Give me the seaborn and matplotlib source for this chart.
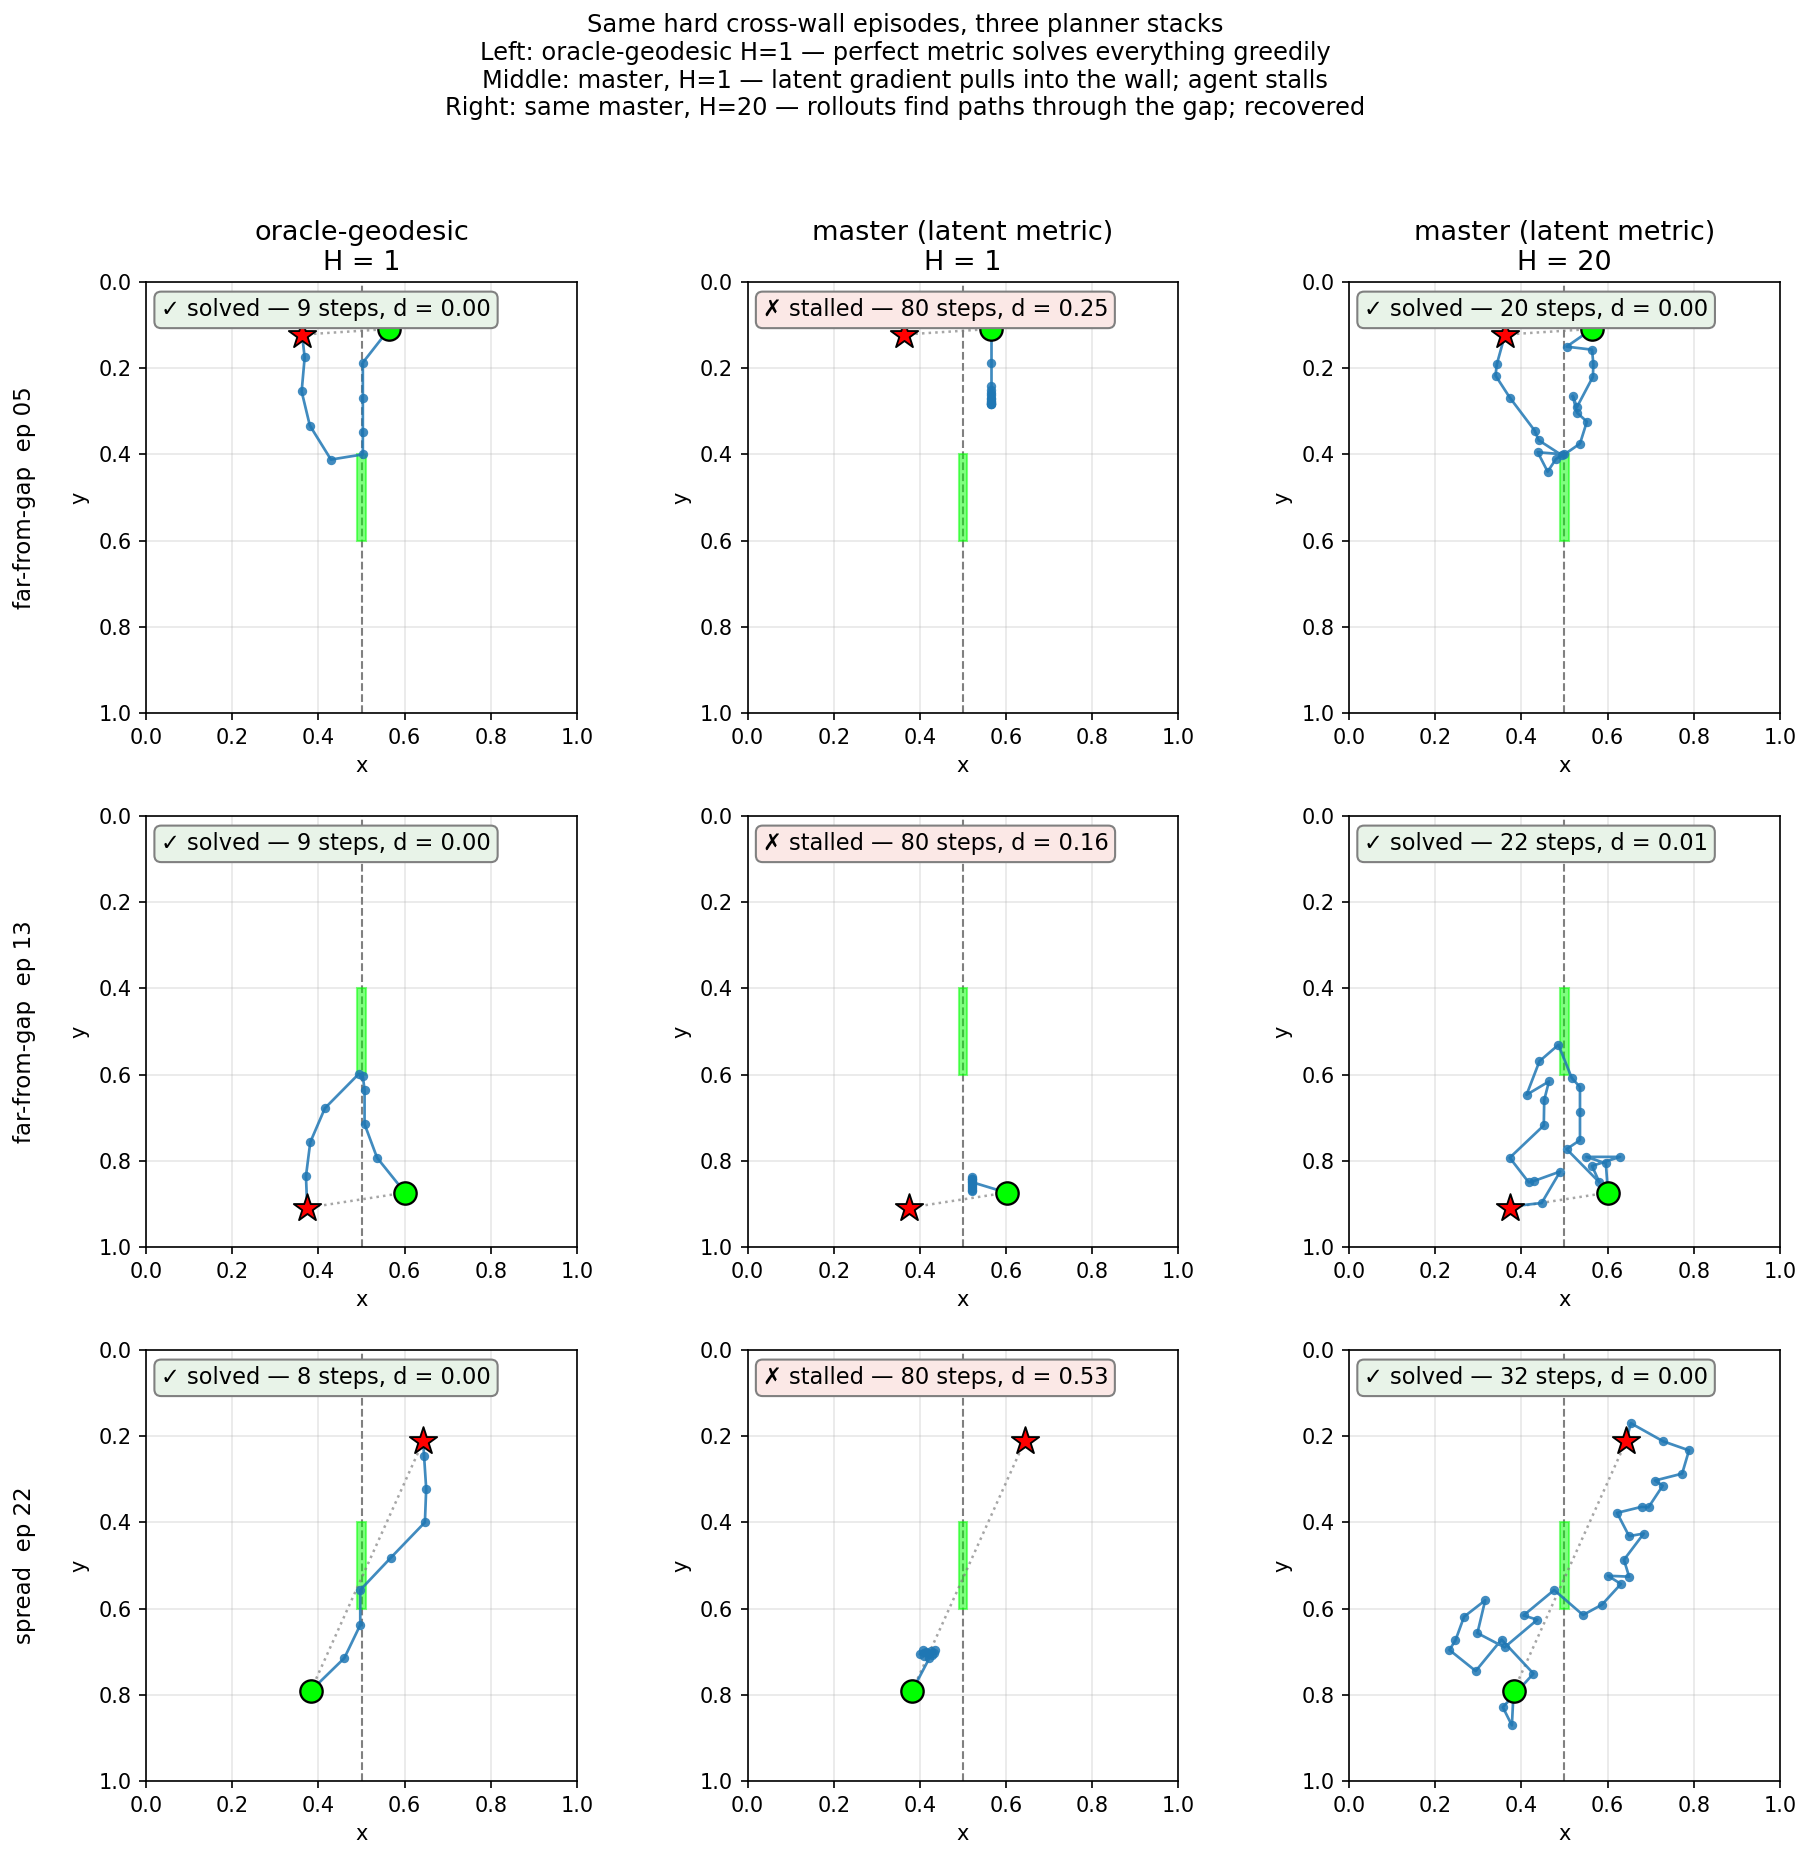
import pandas as pd
import matplotlib.pyplot as plt
import seaborn as sns
from matplotlib.patches import Rectangle

# --- episode data (x, y in [0, 1]; y axis is drawn top-down) ---
row_labels = ["far-from-gap  ep 05", "far-from-gap  ep 13", "spread  ep 22"]
col_titles = ["oracle-geodesic\nH = 1",
              "master (latent metric)\nH = 1",
              "master (latent metric)\nH = 20"]

starts = [(0.564, 0.109), (0.601, 0.874), (0.382, 0.791)]
goals = [(0.362, 0.122), (0.374, 0.909), (0.643, 0.212)]

# visited positions after the start
ep05_oracle = [(0.503, 0.187), (0.503, 0.269), (0.503, 0.347), (0.503, 0.400),
               (0.429, 0.412), (0.380, 0.333), (0.361, 0.254), (0.368, 0.175),
               (0.362, 0.122)]
ep05_master_h1 = [(0.564, 0.187), (0.564, 0.242), (0.564, 0.250), (0.564, 0.257),
                  (0.564, 0.263), (0.564, 0.268), (0.564, 0.272), (0.564, 0.275),
                  (0.564, 0.278), (0.564, 0.280), (0.564, 0.282), (0.564, 0.283),
                  (0.564, 0.284)]
ep05_master_h20 = [(0.505, 0.150), (0.564, 0.157), (0.567, 0.191), (0.566, 0.220),
                   (0.529, 0.290), (0.519, 0.264), (0.529, 0.303), (0.552, 0.324),
                   (0.536, 0.375), (0.500, 0.400), (0.438, 0.395), (0.461, 0.440),
                   (0.480, 0.411), (0.494, 0.402), (0.440, 0.367), (0.431, 0.345),
                   (0.373, 0.268), (0.340, 0.217), (0.343, 0.191), (0.362, 0.122)]

ep13_oracle = [(0.536, 0.793), (0.507, 0.715), (0.507, 0.636), (0.503, 0.604),
               (0.494, 0.598), (0.415, 0.678), (0.381, 0.757), (0.371, 0.836),
               (0.374, 0.909)]
ep13_master_h1 = [(0.522, 0.850), (0.521, 0.843), (0.521, 0.837), (0.522, 0.842),
                  (0.522, 0.848), (0.522, 0.854), (0.522, 0.859), (0.522, 0.864),
                  (0.522, 0.868), (0.522, 0.871)]
ep13_master_h20 = [(0.596, 0.806), (0.551, 0.791), (0.629, 0.791), (0.564, 0.812),
                   (0.581, 0.850), (0.505, 0.773), (0.536, 0.752), (0.536, 0.687),
                   (0.536, 0.629), (0.517, 0.608), (0.486, 0.531), (0.442, 0.569),
                   (0.412, 0.647), (0.464, 0.616), (0.453, 0.659), (0.452, 0.718),
                   (0.373, 0.793), (0.417, 0.850), (0.429, 0.847), (0.490, 0.825),
                   (0.447, 0.898), (0.377, 0.906)]

ep22_oracle = [(0.460, 0.715), (0.497, 0.638), (0.497, 0.557), (0.568, 0.482),
               (0.647, 0.400), (0.650, 0.322), (0.645, 0.245), (0.643, 0.212)]
ep22_master_h1 = [(0.422, 0.715), (0.432, 0.704), (0.434, 0.697), (0.425, 0.699),
                  (0.407, 0.697), (0.400, 0.706), (0.410, 0.710), (0.418, 0.703),
                  (0.428, 0.708), (0.415, 0.700)]
ep22_master_h20 = [(0.378, 0.871), (0.357, 0.829), (0.428, 0.751), (0.354, 0.672),
                   (0.294, 0.745), (0.233, 0.696), (0.247, 0.674), (0.267, 0.619),
                   (0.316, 0.581), (0.298, 0.657), (0.361, 0.690), (0.437, 0.626),
                   (0.405, 0.616), (0.476, 0.557), (0.543, 0.615), (0.587, 0.591),
                   (0.631, 0.543), (0.601, 0.524), (0.650, 0.526), (0.638, 0.487),
                   (0.684, 0.426), (0.650, 0.432), (0.622, 0.378), (0.679, 0.364),
                   (0.695, 0.365), (0.728, 0.315), (0.710, 0.303), (0.773, 0.287),
                   (0.789, 0.233), (0.729, 0.212), (0.654, 0.170), (0.643, 0.212)]

trajectories = [
    [ep05_oracle, ep05_master_h1, ep05_master_h20],
    [ep13_oracle, ep13_master_h1, ep13_master_h20],
    [ep22_oracle, ep22_master_h1, ep22_master_h20],
]
solved = [[True, False, True], [True, False, True], [True, False, True]]
steps = [[9, 80, 20], [9, 80, 22], [8, 80, 32]]
final_dist = [[0.00, 0.25, 0.00], [0.00, 0.16, 0.01], [0.00, 0.53, 0.00]]

# wall at x = 0.5 with a gap between y = 0.4 and 0.6
wall_x = 0.5
gap_y = (0.4, 0.6)


def main():
    fig, axes = plt.subplots(3, 3, figsize=(1810 / 150, 1859 / 150), dpi=150)
    fig.subplots_adjust(left=0.0807, right=0.9834, top=0.8483, bottom=0.042,
                        wspace=0.3956, hspace=0.239)

    for r in range(3):
        sx, sy = starts[r]
        gx, gy = goals[r]
        for c in range(3):
            ax = axes[r, c]
            pts = [(sx, sy)] + trajectories[r][c]
            df = pd.DataFrame(pts, columns=["x", "y"])

            ax.grid(True, color="#b0b0b0", alpha=0.3, lw=0.8)
            ax.set_axisbelow(True)
            ax.axvline(wall_x, color="gray", ls="--", lw=1.0, zorder=1)
            ax.add_patch(Rectangle((wall_x - 0.01, gap_y[0]), 0.02, gap_y[1] - gap_y[0],
                                   facecolor="lime", edgecolor="lime", alpha=0.5,
                                   lw=1.0, zorder=2))
            # straight-line reference
            ax.plot([sx, gx], [sy, gy], color="gray", ls=":", lw=1.2, alpha=0.7, zorder=2)

            sns.lineplot(data=df, x="x", y="y", sort=False, estimator=None, ax=ax,
                         color="C0", lw=1.3, alpha=0.85, marker="o", markersize=4.5,
                         markeredgewidth=0, zorder=3)
            sns.scatterplot(x=[sx], y=[sy], ax=ax, s=115, color="lime",
                            edgecolor="black", linewidth=1.1, zorder=5)
            sns.scatterplot(x=[gx], y=[gy], ax=ax, s=190, marker="*", color="red",
                            edgecolor="black", linewidth=0.9, zorder=6)

            ax.set_xlim(0, 1)
            ax.set_ylim(1, 0)
            ax.set_aspect("equal")
            ax.set_xlabel("x")
            ax.set_ylabel("y")

            if solved[r][c]:
                txt = f"\u2713 solved \u2014 {steps[r][c]} steps, d = {final_dist[r][c]:.2f}"
                fc = "#e8f3e8"
            else:
                txt = f"\u2717 stalled \u2014 {steps[r][c]} steps, d = {final_dist[r][c]:.2f}"
                fc = "#fbe8e6"
            ax.text(0.035, 0.962, txt, transform=ax.transAxes, ha="left", va="top",
                    fontsize=10.8, zorder=7,
                    bbox=dict(boxstyle="round,pad=0.3", facecolor=fc,
                              edgecolor="#808080", lw=1.0))

            if r == 0:
                ax.set_title(col_titles[c], fontsize=13)
            if c == 0:
                ax.text(-0.283, 0.5, row_labels[r], transform=ax.transAxes,
                        rotation=90, ha="center", va="center", fontsize=11)

    fig.suptitle("Same hard cross-wall episodes, three planner stacks\n"
                 "Left: oracle-geodesic H=1 \u2014 perfect metric solves everything greedily\n"
                 "Middle: master, H=1 \u2014 latent gradient pulls into the wall; agent stalls\n"
                 "Right: same master, H=20 \u2014 rollouts find paths through the gap; recovered",
                 fontsize=11.6, y=0.993, va="top")

    fig.savefig("out.png", dpi=150)
    plt.close(fig)


if __name__ == "__main__":
    main()
